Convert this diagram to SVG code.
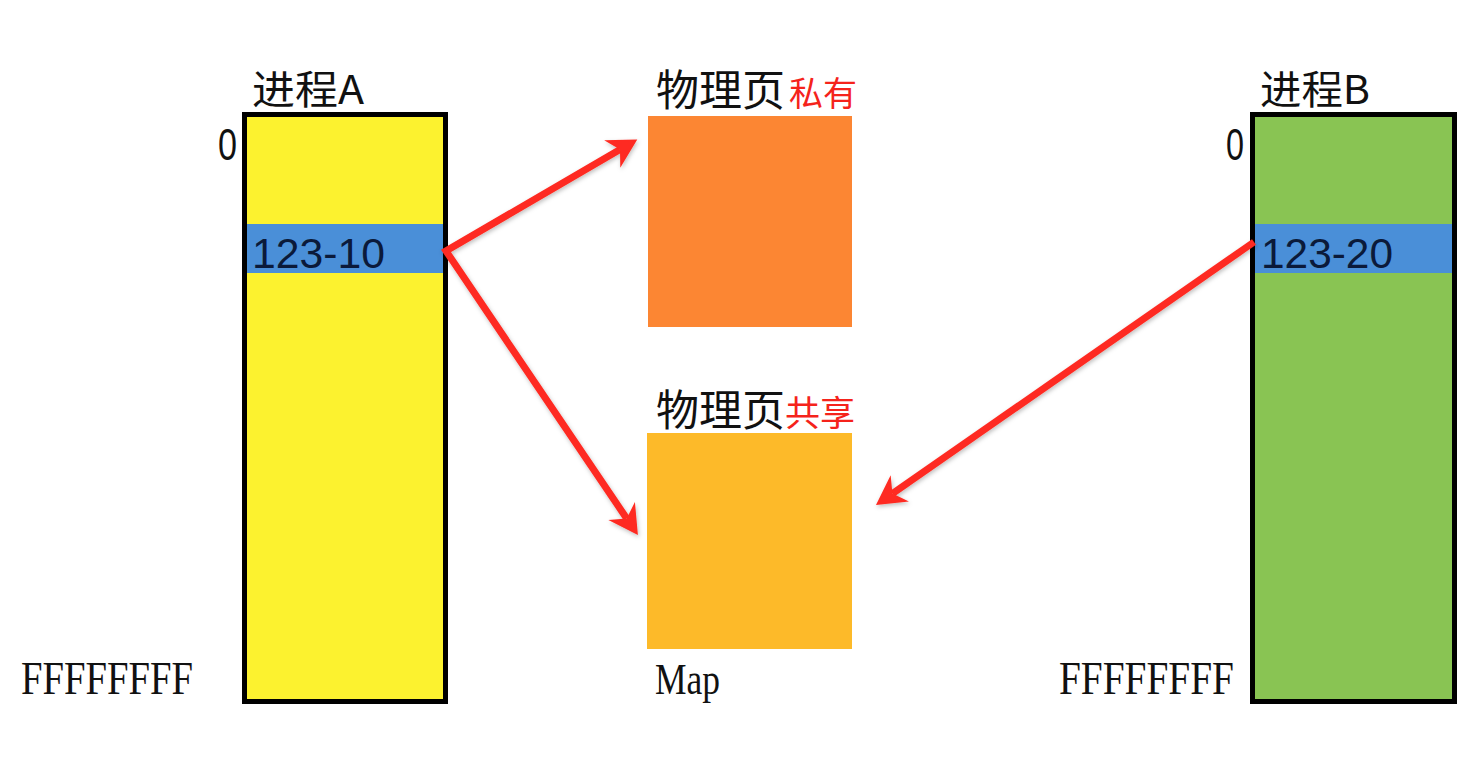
<svg xmlns="http://www.w3.org/2000/svg" width="1476" height="758" viewBox="0 0 1476 758">
<style>
.box{stroke:#000;stroke-width:5}
.band{fill:#4A8FD8}
.cjk{font-family:"Noto Sans CJK SC","Liberation Sans",sans-serif;fill:#111}
.red{font-family:"Noto Sans CJK SC","Liberation Sans",sans-serif;fill:#F5231B}
.num{font-family:"Liberation Sans","DejaVu Sans",sans-serif;fill:#111}
.addr{font-family:"Liberation Serif","DejaVu Serif",serif;fill:#111}
.band-txt{font-family:"Liberation Sans","DejaVu Sans",sans-serif;fill:#0B1A3A}
.arrow{fill:none;stroke:#FE2A20;stroke-width:7;stroke-linejoin:miter;stroke-linecap:butt}
</style>
<defs>
<marker id="ah" markerUnits="userSpaceOnUse" viewBox="-40 -20 42 40" markerWidth="42" markerHeight="40" refX="-20" refY="0" orient="auto-start-reverse">
<path d="M0,0 L-29,-16 L-20,0 L-29,16 Z" fill="#FE2A20"/>
</marker>
<filter id="sh" x="-10%" y="-10%" width="120%" height="120%">
<feDropShadow dx="1" dy="2" stdDeviation="2" flood-color="#000" flood-opacity="0.25"/>
</filter>
</defs>
<rect width="1476" height="758" fill="#fff"/>

<g id="procA">
<rect class="box" x="244.5" y="114.5" width="201" height="587" fill="#FCF22F"/>
<rect class="band" x="247" y="224" width="196" height="49"/>
<text class="cjk" x="252" y="104" font-size="40" textLength="112" lengthAdjust="spacingAndGlyphs">进程A</text>
<text class="num" x="218" y="160" font-size="44" textLength="19" lengthAdjust="spacingAndGlyphs">0</text>
<text class="band-txt" x="252" y="268" font-size="42" textLength="133" lengthAdjust="spacingAndGlyphs">123-10</text>
<text class="addr" x="21" y="694" font-size="47" textLength="172" lengthAdjust="spacingAndGlyphs">FFFFFFFF</text>
</g>

<g id="procB">
<rect class="box" x="1252.5" y="114.5" width="202" height="587" fill="#89C453"/>
<rect class="band" x="1255" y="224" width="197" height="49"/>
<text class="cjk" x="1260" y="104" font-size="40" textLength="110" lengthAdjust="spacingAndGlyphs">进程B</text>
<text class="num" x="1226" y="160" font-size="44" textLength="18" lengthAdjust="spacingAndGlyphs">0</text>
<text class="band-txt" x="1261" y="268" font-size="42" textLength="132" lengthAdjust="spacingAndGlyphs">123-20</text>
<text class="addr" x="1059" y="694" font-size="47" textLength="175" lengthAdjust="spacingAndGlyphs">FFFFFFFF</text>
</g>

<g id="pagePrivate">
<rect x="648" y="116" width="204" height="211" fill="#FC8633"/>
<text x="656" y="106"><tspan class="cjk" font-size="43">物理页</tspan><tspan class="red" font-size="34" dx="4">私有</tspan></text>
</g>

<g id="pageShared">
<rect x="647" y="433" width="205" height="216" fill="#FDBA29"/>
<text x="656" y="426"><tspan class="cjk" font-size="43">物理页</tspan><tspan class="red" font-size="35">共享</tspan></text>
<text class="addr" x="655" y="694" font-size="44" textLength="65" lengthAdjust="spacingAndGlyphs">Map</text>
</g>

<g id="connectors" filter="url(#sh)">
<path class="arrow" d="M620,149.5 L446,251 L626.7,518.5" marker-start="url(#ah)" marker-end="url(#ah)"/>
<path class="arrow" d="M1254,242 L892.4,493.6" marker-end="url(#ah)"/>
</g>
</svg>
